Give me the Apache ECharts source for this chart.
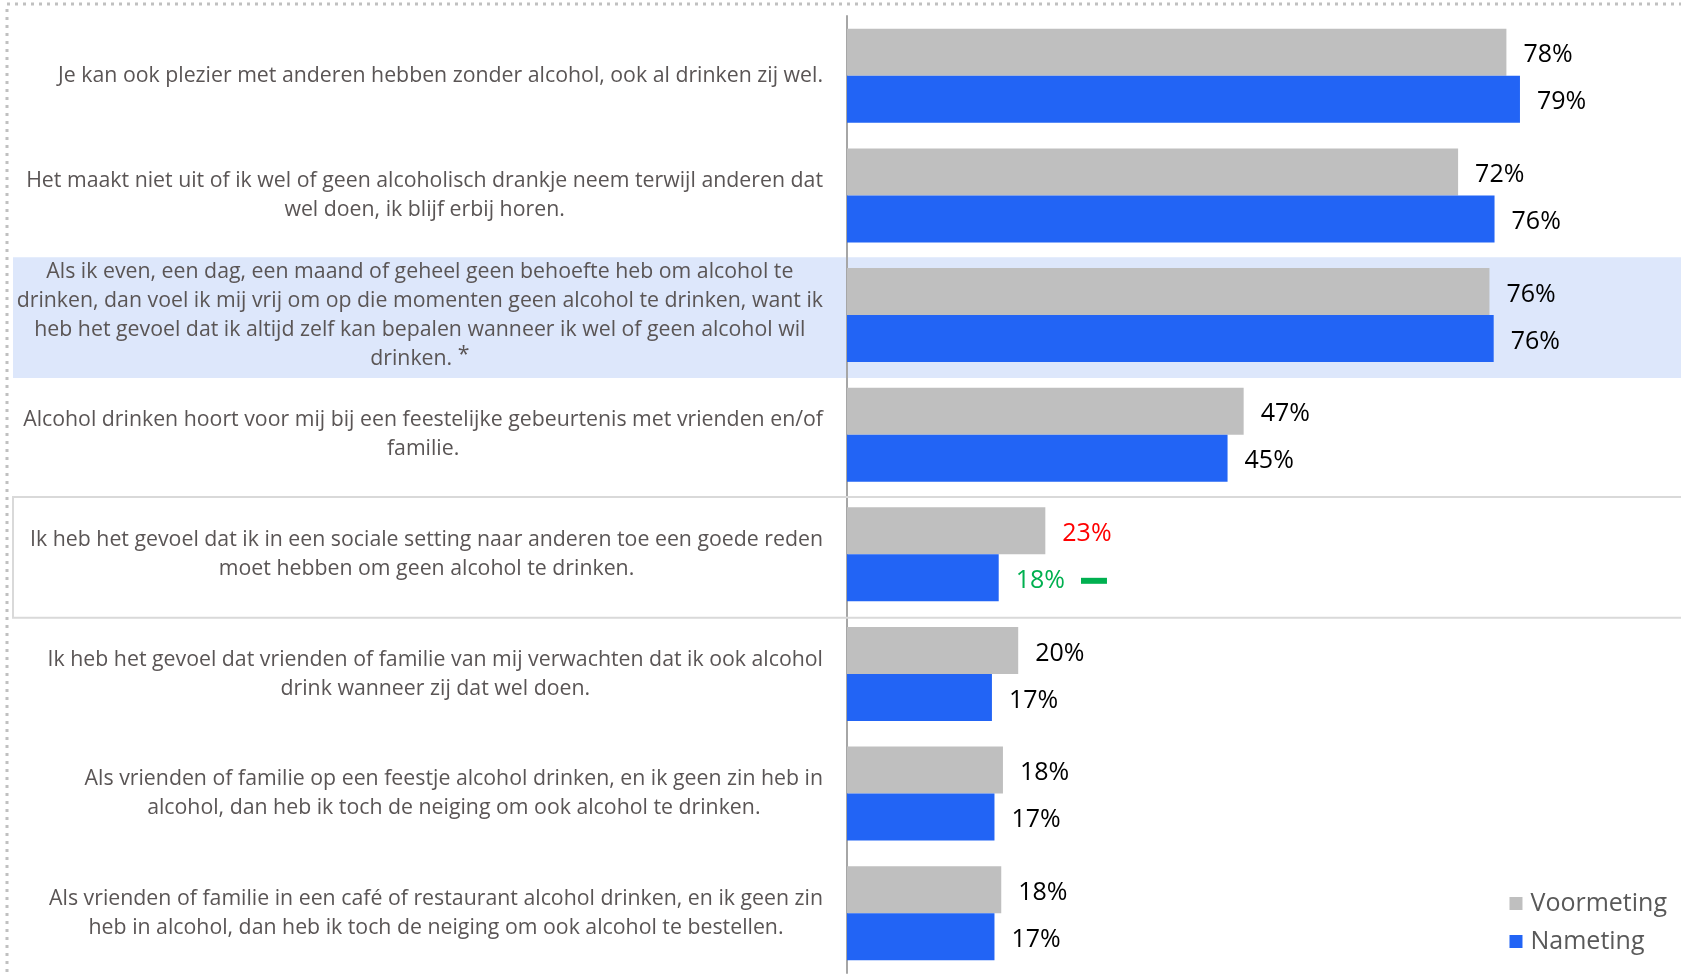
<!DOCTYPE html>
<html><head><meta charset="utf-8">
<script src="https://cdn.jsdelivr.net/npm/echarts@6/dist/echarts.min.js"></script>
<style>html,body{margin:0;padding:0;background:#fff}#c{width:1681px;height:976px}</style>
</head><body><div id="c"></div>
<script>
const categories = [
  "Je kan ook plezier met anderen hebben zonder alcohol, ook al drinken zij wel.",
  "Het maakt niet uit of ik wel of geen alcoholisch drankje neem terwijl anderen dat\nwel doen, ik blijf erbij horen.",
  "Als ik even, een dag, een maand of geheel geen behoefte heb om alcohol te\ndrinken, dan voel ik mij vrij om op die momenten geen alcohol te drinken, want ik\nheb het gevoel dat ik altijd zelf kan bepalen wanneer ik wel of geen alcohol wil\ndrinken. *",
  "Alcohol drinken hoort voor mij bij een feestelijke gebeurtenis met vrienden en/of\nfamilie.",
  "Ik heb het gevoel dat ik in een sociale setting naar anderen toe een goede reden\nmoet hebben om geen alcohol te drinken.",
  "Ik heb het gevoel dat vrienden of familie van mij verwachten dat ik ook alcohol\ndrink wanneer zij dat wel doen.",
  "Als vrienden of familie op een feestje alcohol drinken, en ik geen zin heb in\nalcohol, dan heb ik toch de neiging om ook alcohol te drinken.",
  "Als vrienden of familie in een café of restaurant alcohol drinken, en ik geen zin\nheb in alcohol, dan heb ik toch de neiging om ook alcohol te bestellen."
];
const voormeting = [77.8, 72.1, 75.8, 46.8, 23.4, 20.2, 18.4, 18.2];
const nameting   = [79.4, 76.4, 76.3, 44.9, 17.9, 17.1, 17.4, 17.4];
const seriesNames = ["Voormeting", "Nameting"];
const highlightRow = 2;
const boxedRow = 4;

const FONT = "'Open Sans', sans-serif";
const chart = echarts.init(document.getElementById('c'), null, {renderer: 'canvas'});

function barLabel(seriesIdx) {
  return {
    show: true, position: 'right', distance: 17, offset: [0, 3],
    fontSize: 25, color: '#000', fontFamily: FONT,
    formatter: p => {
      const t = Math.round(p.value) + '%';
      if (p.dataIndex === boxedRow) {
        return seriesIdx === 0 ? '{r|' + t + '}' : '{g|' + t + '}{sp|}{d|}';
      }
      return '{n|' + t + '}';
    },
    rich: {
      n: {fontSize: 25, color: '#000', fontFamily: FONT},
      r: {fontSize: 25, color: '#ff0000', fontFamily: FONT},
      g: {fontSize: 25, color: '#00b050', fontFamily: FONT},
      sp: {width: 16, height: 6},
      d: {width: 26, height: 6, backgroundColor: '#00b050'}
    }
  };
}

function catLabel(v) {
  return v.split('\n').map(l => {
    if (l.indexOf(' *') >= 0) {
      return '{c|' + l.replace(' *', ' ') + '}{s|*}';
    }
    return '{c|' + l + '}';
  }).join('\n');
}

const option = {
  animation: false,
  backgroundColor: '#fff',
  grid: {left: 847, top: 16, width: 847, height: 957, containLabel: false},
  xAxis: {type: 'value', min: 0, max: 98.4, show: false, splitLine: {show: false}},
  yAxis: {
    type: 'category', data: categories, inverse: true,
    axisLine: {show: true, lineStyle: {color: '#a6a6a6', width: 2}},
    axisTick: {show: false},
    axisLabel: {
      interval: 0, margin: 24,
      formatter: catLabel,
      rich: {
        c: {align: 'center', fontSize: 21.3, lineHeight: 29, color: '#5a5555', fontFamily: FONT},
        s: {align: 'center', fontSize: 21.3, lineHeight: 20, verticalAlign: 'top', color: '#5a5555', fontFamily: FONT}
      }
    }
  },
  legend: {
    data: seriesNames, orient: 'vertical', right: 9, top: 886,
    itemWidth: 13, itemHeight: 13, itemGap: 13, icon: 'rect',
    textStyle: {fontSize: 25, color: '#595959', fontFamily: FONT, padding: [0, 0, 0, 3]}
  },
  series: [
    {name: seriesNames[0], type: 'bar', data: voormeting, barWidth: 47, barGap: '0%',
     itemStyle: {color: '#bfbfbf'}, label: barLabel(0), z: 3},
    {name: seriesNames[1], type: 'bar', data: nameting, barWidth: 47, barGap: '0%',
     itemStyle: {color: '#2264f5'}, label: barLabel(1), z: 3}
  ]
};
chart.setOption(option);

const y0 = chart.convertToPixel({yAxisIndex: 0}, categories[0]);
const y1 = chart.convertToPixel({yAxisIndex: 0}, categories[1]);
const band = Math.abs(y1 - y0);
const yh = chart.convertToPixel({yAxisIndex: 0}, categories[highlightRow]);
const yb = chart.convertToPixel({yAxisIndex: 0}, categories[boxedRow]);

chart.setOption({
  graphic: [
    {type: 'rect', z: -10, silent: true,
     shape: {x: 13, y: yh - band / 2 + 2, width: 1700, height: band + 1},
     style: {fill: '#dde7fb'}},
    {type: 'rect', z: 10, silent: true,
     shape: {x: 13, y: yb - band / 2 + 2.5, width: 1700, height: band + 1},
     style: {fill: null, stroke: '#d9d9d9', lineWidth: 2}},
    {type: 'rect', z: 10, silent: true,
     shape: {x: 7, y: 4, width: 1700, height: 1000},
     style: {fill: null, stroke: '#c0c0c0', lineWidth: 3, lineDash: [3, 5]}}
  ]
});
</script></body></html>
